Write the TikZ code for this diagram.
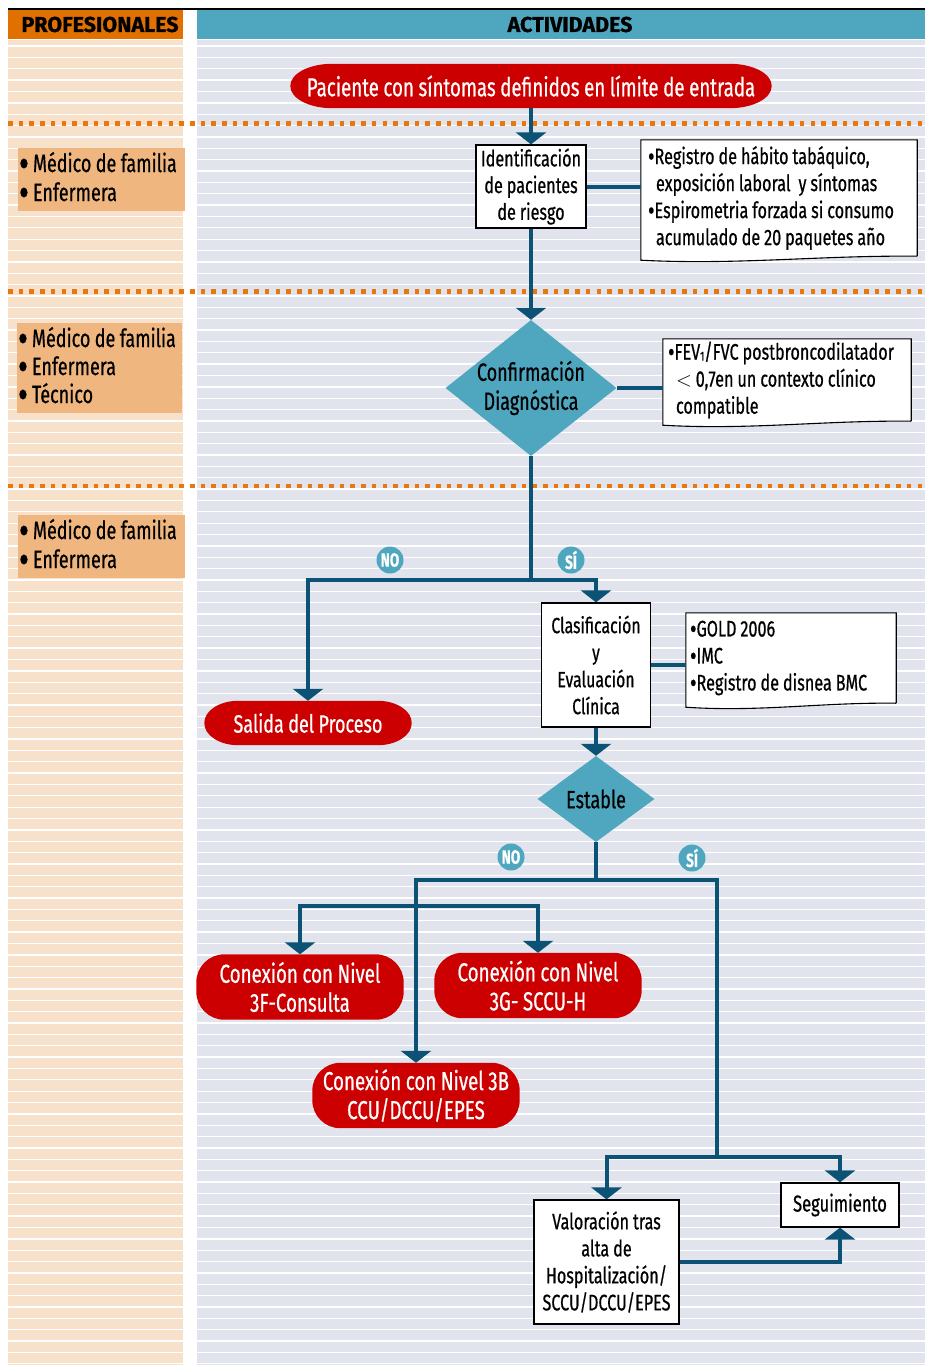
\documentclass[tikz,border=0pt]{standalone}
\usepackage{fontspec}
\setmainfont{Fira Sans}[FakeStretch=0.72,WordSpace=0.92,FakeBold=0.6]
\newfontfamily\hdrfont{Fira Sans}[FakeBold=0.8]
\usetikzlibrary{arrows.meta,shapes.geometric,calc}
\definecolor{leftcol}{HTML}{F8E1CB}
\definecolor{rightcol}{HTML}{E1E4EC}
\definecolor{hdrorange}{HTML}{E07000}
\definecolor{hdrblue}{HTML}{4FA6BF}
\definecolor{dotor}{HTML}{E8780E}
\definecolor{linkblue}{HTML}{0B5275}
\definecolor{diamblue}{HTML}{4FA6BF}
\definecolor{termred}{HTML}{CC0000}
\definecolor{profor}{HTML}{F0B67F}
\newcommand\fs[2]{\fontsize{#1}{#2}\selectfont}
\newcommand\bul{\makebox[14pt][l]{\raisebox{-6pt}{\scalebox{1.7}{•}}}}
\newcommand\nbul{\raisebox{-2pt}{\scalebox{1.25}{•}}}
\pgfdeclarelayer{bg}\pgfdeclarelayer{shp}
\pgfsetlayers{bg,shp,main}
\newcommand\termshape[3]{%
  \fill[termred] ([xshift=#2]#1.north west) -- ([xshift=-#2]#1.north east)
    arc[start angle=90,end angle=0,x radius=#2,y radius=#3]
    -- ([yshift=#3]#1.south east)
    arc[start angle=0,end angle=-90,x radius=#2,y radius=#3]
    -- ([xshift=#2]#1.south west)
    arc[start angle=270,end angle=180,x radius=#2,y radius=#3]
    -- ([yshift=-#3]#1.north west)
    arc[start angle=180,end angle=90,x radius=#2,y radius=#3] -- cycle;}
\newcommand\noteshape[1]{%
  \draw[line width=1.1pt,fill=white] (#1.south east) -- (#1.north east) -- (#1.north west)
    -- ([yshift=-4pt]#1.south west)
    .. controls ($(#1.south west)!0.35!(#1.south east)+(0pt,-9pt)$)
    and ($(#1.south west)!0.65!(#1.south east)+(0pt,1pt)$) .. (#1.south east);}
\begin{document}
\begin{tikzpicture}[x=1pt,y=-1pt,
  conn/.style={draw=linkblue,line width=4pt},
  arr/.style={conn,-{Triangle[width=30pt,length=12pt]}},
  termnode/.style={text=white,inner sep=0,align=center},
  procbox/.style={draw=black,line width=1.2pt,fill=white,inner sep=0,align=center},
  notenode/.style={inner sep=0,align=flush left},
  decision/.style={diamond,fill=diamblue,inner sep=0},
  dtext/.style={inner sep=0,align=center},
  badge/.style={circle,fill=diamblue,text=white,inner sep=0,minimum size=27pt,font=\bfseries\fs{19}{19}},
  profbox/.style={fill=profor,inner sep=0,align=flush left},
  sepline/.style={dotor,line width=4.5pt,dash pattern=on 4.6pt off 6.1pt}]
\useasboundingbox (0,0) rectangle (925,1365);
\begin{pgfonlayer}{bg}
  \fill[leftcol] (8,38.5) rectangle (183,1365);
  \fill[rightcol] (197,38.5) rectangle (925,1365);
  \foreach \i in {0,...,116} {
    \fill[white] (8,{45.4+\i*11.36}) rectangle (183,{46.7+\i*11.36});
    \fill[white] (197,{45.4+\i*11.36}) rectangle (925,{46.7+\i*11.36});
  }
  \fill[white] (8,38.5) rectangle (925,40);
  \fill[hdrorange] (8,9.5) rectangle (183,38.5);
  \fill[hdrblue] (197,9.5) rectangle (925,38.5);
  \draw[line width=2.5pt] (8,9) -- (925,9);
  \draw[sepline] (8,123.3) -- (925,123.3);
  \draw[sepline] (8,291.5) -- (925,291.5);
  \draw[sepline] (8,486) -- (925,486);
\end{pgfonlayer}

\node[font=\hdrfont\bfseries\fs{21.5}{22}] (hprof) at (100,24.5) {PROFESIONALES};
\node[font=\hdrfont\bfseries\fs{21.5}{22}] (hact) at (570,24.5) {ACTIVIDADES};

% professionals
\node[profbox,minimum width=167pt,minimum height=63pt,text width=165pt,font=\fs{25}{29}] (prof1) at (101.5,179.5)
  {\bul Médico de familia\\\bul Enfermera};
\node[profbox,minimum width=165pt,minimum height=90pt,text width=163pt,font=\fs{25}{28}] (prof2) at (99.5,368)
  {\bul Médico de familia\\\bul Enfermera\\\bul Técnico};
\node[profbox,minimum width=167pt,minimum height=63pt,text width=165pt,font=\fs{25}{29}] (prof3) at (101.5,546.5)
  {\bul Médico de familia\\\bul Enfermera};

% activities
\node[termnode,minimum width=481pt,minimum height=44pt,font=\fs{26}{28}] (start) at (531,86)
  {Paciente con síntomas definidos en límite de entrada};
\node[procbox,minimum width=110pt,minimum height=83pt,font=\fs{22.5}{26.7}] (ident) at (531,186.5)
  {Identificación\\de pacientes\\de riesgo};
\node[notenode,minimum width=276pt,minimum height=116pt,text width=262pt,font=\fs{22.5}{27}] (note1) at (779,198)
  {\nbul Registro de hábito tabáquico,\\\hspace*{8pt}exposición laboral\ \ y síntomas\\\nbul Espirometria forzada si consumo\\\hspace*{8pt}acumulado de 20 paquetes año};
\node[decision,minimum width=171pt,minimum height=136pt] (diag) at (531,388) {};
\node[dtext,font=\fs{25}{29}] (diagt) at (diag.center) {Confirmación\\Diagnóstica};
\node[notenode,minimum width=248pt,minimum height=82pt,text width=238pt,font=\fs{22.5}{27}] (note2) at (787,380)
  {\nbul FEV{\fs{13}{13}\raisebox{-1pt}{1}}/FVC postbroncodilatador\\\hspace*{8pt}$<$ 0,7en un contexto clínico\\\hspace*{8pt}compatible};
\coordinate (j1) at (531,580);
\node[badge] (no1) at (390,560) {NO};
\node[badge] (si1) at (571,560) {SÍ};
\node[termnode,minimum width=207pt,minimum height=44pt,font=\fs{25}{28}] (salida) at (308,723) {Salida del Proceso};
\node[procbox,minimum width=109pt,minimum height=124pt,font=\fs{22}{27}] (clas) at (596,665)
  {Clasificación\\y\\Evaluación\\Clínica};
\node[notenode,minimum width=210pt,minimum height=90pt,text width=202pt,font=\fs{22.5}{27}] (note3) at (791,658)
  {\nbul GOLD 2006\\\nbul IMC\\\nbul Registro de disnea BMC};
\node[decision,minimum width=117pt,minimum height=86pt] (estab) at (596,799) {};
\node[dtext,font=\fs{25}{28}] (estabt) at (estab.center) {Estable};
\coordinate (j2) at (596,880);
\coordinate (j3) at (717,1157);
\coordinate (b2) at (416,906);
\node[badge] (no2) at (511,857) {NO};
\node[badge] (si2) at (692,858) {SÍ};
\node[termnode,minimum width=207pt,minimum height=65pt,font=\fs{26}{29}] (n3f) at (300,987)
  {Conexión con Nivel\\3F-Consulta};
\node[termnode,minimum width=207pt,minimum height=65pt,font=\fs{26}{29}] (n3g) at (538,985.5)
  {Conexión con Nivel\\3G- SCCU-H};
\node[termnode,minimum width=207pt,minimum height=65pt,font=\fs{26}{29}] (n3b) at (416,1095.5)
  {Conexión con Nivel 3B\\CCU/DCCU/EPES};
\node[procbox,minimum width=145pt,minimum height=124pt,font=\fs{22.5}{27}] (val) at (606.5,1262)
  {Valoración tras\\alta de\\Hospitalización/\\SCCU/DCCU/EPES};
\node[procbox,minimum width=118pt,minimum height=44pt,font=\fs{23}{26}] (seg) at (840,1205) {Seguimiento};

\begin{pgfonlayer}{shp}
  \termshape{start}{42pt}{22pt}
  \termshape{salida}{34pt}{22pt}
  \termshape{n3f}{28pt}{28pt}
  \termshape{n3g}{28pt}{28pt}
  \termshape{n3b}{28pt}{28pt}
  \noteshape{note1}
  \noteshape{note2}
  \noteshape{note3}
  % connectors
  \draw[arr] (start) -- (ident);
  \draw[conn] (ident.east) -- (ident.east -| note1.west);
  \draw[arr] (ident) -- (diag);
  \draw[conn] (diag.east) -- (diag.east -| note2.west);
  \draw[conn] (diag.south) -- (j1);
  \draw[arr] (j1) -| (salida.north);
  \draw[arr] (j1) -| (clas.north);
  \draw[conn] (clas.east) -- (clas.east -| note3.west);
  \draw[arr] (clas) -- (estab);
  \draw[conn] (estab.south) -- (j2);
  \draw[arr] (j2) -| (n3b.north);
  \draw[arr] (b2) -| (n3f.north);
  \draw[arr] (b2) -| (n3g.north);
  \draw[conn] (j2) -| (j3);
  \draw[arr] (j3) -| (val.north);
  \draw[arr] (j3) -| (seg.north);
  \draw[arr] (val.east) -| (seg.south);
\end{pgfonlayer}
\end{tikzpicture}
\end{document}
